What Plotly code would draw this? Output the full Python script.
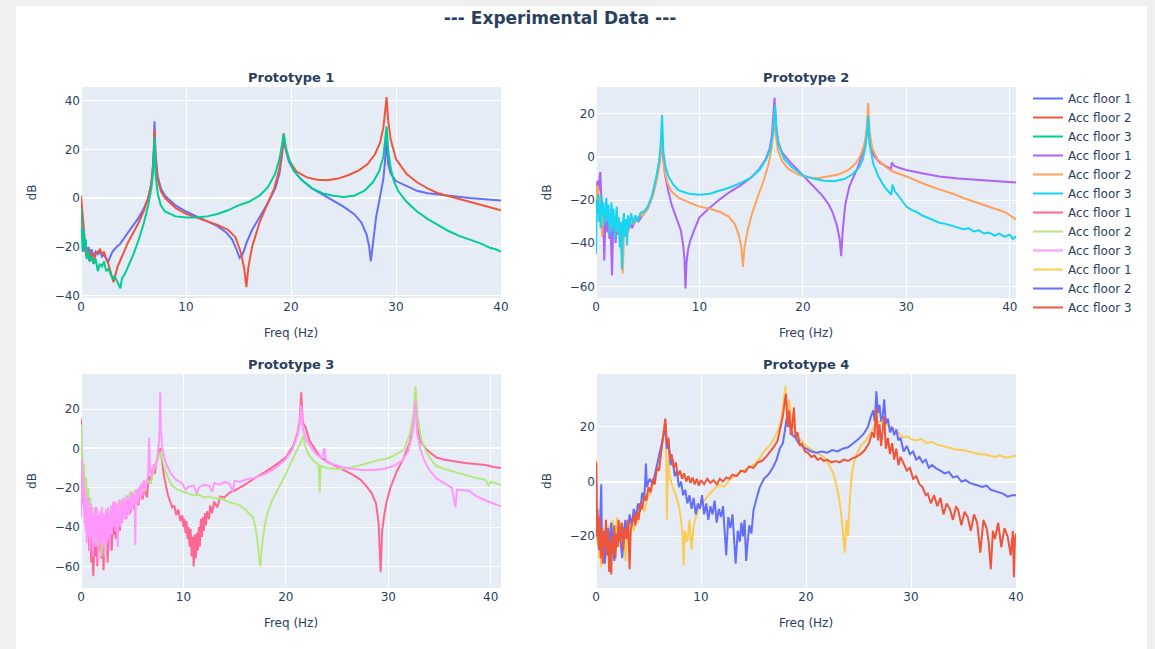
import plotly.graph_objects as go

# ---------------- data (frequency Hz, magnitude dB) ----------------
p1_acc1 = [(0.0,-6),(0.1,-16),(0.2,-12),(0.3,-22),(0.4,-17),(0.55,-24),(0.7,-20),(0.85,-23),(1.0,-21),(1.2,-24),(1.4,-22),(1.6,-23),(1.8,-22),(2.0,-24),(2.2,-23),(2.4,-25),(2.6,-26),(2.8,-24),(3.0,-22),(3.2,-21),(3.4,-20),(3.7,-19),(4.0,-17),(4.5,-14),(5.0,-11),(5.5,-8),(6.0,-4),(6.4,0),(6.7,6),(6.85,13),(6.95,22),(7.0,31.5),(7.1,18),(7.3,9),(7.6,4),(8.0,1),(9.0,-3),(10.0,-5.5),(11.0,-7.5),(12.0,-9.5),(13.0,-11.5),(13.8,-14),(14.4,-17),(14.8,-21),(15.1,-24.5),(15.4,-23),(15.8,-18),(16.3,-13),(17.0,-8),(17.8,-2),(18.5,4),(18.9,10),(19.15,18),(19.3,24.5),(19.5,20),(19.8,15),(20.3,11),(21.0,7.5),(22.0,4),(23.0,1.5),(24.0,-1),(25.0,-3.5),(26.0,-6.5),(26.7,-10),(27.2,-15),(27.45,-20),(27.6,-26),(27.8,-18),(28.1,-8),(28.5,1),(28.8,8),(28.95,15),(29.1,25),(29.25,14),(29.5,10),(30.0,7),(31.0,5),(32.0,3),(33.0,2),(35.0,1),(37.0,0),(40.0,-1)]
p1_acc2 = [(0.0,1),(0.1,-4),(0.2,-12),(0.35,-20),(0.5,-24),(0.65,-21),(0.8,-26),(1.0,-22),(1.2,-27),(1.4,-23),(1.6,-22),(1.8,-21),(2.0,-23),(2.2,-22),(2.4,-25),(2.6,-27),(2.8,-30),(3.0,-33),(3.1,-34.5),(3.3,-31),(3.5,-28),(3.8,-25),(4.1,-22),(4.5,-18),(5.0,-14),(5.5,-10),(6.0,-5),(6.4,0),(6.7,6),(6.9,15),(7.0,28),(7.1,16),(7.3,8),(7.6,3),(8.0,0),(9.0,-4),(10.0,-6.5),(11.0,-8),(12.0,-9.5),(13.0,-11),(14.0,-13),(14.7,-16),(15.2,-22),(15.55,-29),(15.75,-36.5),(15.95,-28),(16.3,-20),(17.0,-10),(17.7,-3),(18.4,4),(18.9,12),(19.15,19),(19.3,26.5),(19.5,20),(19.9,15),(20.5,11),(21.5,8.5),(22.5,7.5),(23.5,7.3),(24.5,8),(25.5,9.5),(26.5,11.5),(27.3,14),(28.0,18),(28.5,23),(28.8,29),(29.0,37),(29.1,41.5),(29.25,32),(29.5,24),(30.0,16),(31.0,10),(32.0,6.5),(33.0,4),(34.0,2),(35.0,0.8),(36.0,-0.5),(38.0,-2.8),(40.0,-5)]
p1_acc3 = [(0.0,-4),(0.08,-14),(0.15,-22),(0.25,-13),(0.35,-20),(0.45,-17),(0.55,-25),(0.7,-22),(0.85,-26),(1.0,-24),(1.2,-27),(1.4,-25),(1.6,-30),(1.8,-27),(2.0,-28),(2.2,-26),(2.4,-30),(2.6,-29),(2.8,-31),(3.0,-33),(3.2,-32),(3.5,-35),(3.75,-37),(3.9,-33),(4.2,-31),(4.6,-27),(5.0,-23),(5.5,-17),(6.0,-10),(6.4,-3),(6.7,4),(6.85,10),(6.95,18),(7.02,25),(7.1,10),(7.3,2),(7.6,-3),(8.0,-5.5),(9.0,-7.5),(10.0,-8),(11.0,-8),(12.0,-7.5),(13.0,-6.5),(14.0,-5),(15.0,-3),(16.0,-1.5),(17.0,1),(17.8,4.5),(18.5,10),(18.9,16),(19.15,22),(19.3,26.5),(19.5,21),(19.8,16),(20.3,11),(21.0,7.5),(22.0,4),(23.0,2),(24.0,1),(25.0,0.5),(26.0,1),(27.0,3),(27.8,6.5),(28.4,11),(28.8,17),(29.0,24),(29.1,29.5),(29.25,20),(29.5,12),(29.8,7),(30.2,3),(31.0,-1.5),(32.0,-5.5),(33.0,-8.5),(34.0,-11),(35.0,-13.5),(36.0,-15.5),(37.0,-17),(38.0,-18.5),(39.0,-20.5),(39.5,-21),(40.0,-22)]

p2_acc1 = [(0.0,-22),(0.05,-14),(0.15,-11),(0.25,-16),(0.35,-9),(0.42,-7),(0.5,-18),(0.6,-22),(0.7,-28),(0.8,-48),(0.9,-30),(1.0,-26),(1.1,-35),(1.2,-28),(1.3,-38),(1.4,-30),(1.5,-45),(1.55,-55),(1.65,-33),(1.8,-30),(1.9,-40),(2.0,-28),(2.15,-36),(2.3,-30),(2.45,-40),(2.6,-32),(2.75,-36),(2.9,-29),(3.1,-34),(3.3,-30),(3.5,-33),(3.8,-29),(4.1,-30),(4.5,-27),(5.0,-24),(5.4,-19),(5.8,-11),(6.1,-3),(6.3,3),(6.4,6),(6.5,-1),(6.7,-9),(7.0,-16),(7.3,-22),(7.6,-26),(7.9,-30),(8.2,-34),(8.4,-40),(8.55,-47),(8.65,-61),(8.75,-49),(8.9,-43),(9.1,-39),(9.4,-35),(9.7,-31),(10.0,-28),(11.0,-23.5),(12.0,-19.5),(13.0,-16),(14.0,-13),(15.0,-9.5),(15.8,-5.5),(16.4,-1),(16.8,4),(17.0,10),(17.15,18),(17.26,27.5),(17.4,15),(17.6,7),(18.0,2),(18.7,-2),(19.5,-6),(20.3,-10),(21.2,-14.5),(21.9,-18),(22.5,-22),(22.9,-26),(23.3,-32),(23.55,-38),(23.7,-46),(23.85,-34),(24.1,-22),(24.5,-13.5),(25.2,-6),(25.8,2),(26.1,9),(26.3,18),(26.45,8),(26.8,1),(27.4,-2.5),(28.1,-4.3),(28.5,-5.6),(28.6,-2.5),(28.8,-4),(29.3,-5),(30.0,-6),(31.5,-7.5),(33.2,-9),(35.0,-10),(36.5,-10.5),(38.5,-11.2),(40.6,-11.8)]
p2_acc2 = [(0.0,-26),(0.05,-18),(0.1,-13),(0.2,-15),(0.3,-22),(0.4,-18),(0.5,-30),(0.6,-37),(0.7,-24),(0.85,-28),(1.0,-22),(1.15,-30),(1.3,-26),(1.5,-33),(1.7,-28),(1.9,-35),(2.1,-30),(2.3,-38),(2.5,-45),(2.58,-54),(2.7,-36),(2.9,-31),(3.1,-35),(3.4,-30),(3.7,-31),(4.0,-28),(4.5,-27),(5.0,-24),(5.5,-18),(5.9,-10),(6.2,-2),(6.35,8),(6.45,5),(6.6,-6),(6.9,-12),(7.3,-16),(8.0,-19),(9.0,-21),(10.0,-23),(11.0,-24),(12.0,-25.5),(12.8,-27.5),(13.4,-31),(13.8,-36),(14.05,-42),(14.2,-51),(14.35,-42),(14.7,-33),(15.1,-26),(15.6,-19),(16.2,-11),(16.7,-3),(17.0,5),(17.15,13),(17.25,21),(17.35,11),(17.6,3),(18.0,-2),(18.6,-5.5),(19.5,-8),(20.5,-9.5),(21.5,-9.8),(22.5,-9),(23.5,-8),(24.4,-6),(25.1,-3),(25.6,1),(26.0,7),(26.2,14),(26.3,25),(26.45,12),(26.7,4),(27.2,-1),(28.0,-4.5),(28.6,-6.5),(29.5,-8),(30.0,-9),(31.0,-11),(32.0,-13),(33.2,-15),(34.5,-17),(35.5,-19),(36.5,-20.6),(37.3,-22),(38.0,-23),(38.8,-24.2),(39.5,-25.5),(40.1,-27.3),(40.6,-29)]
p2_acc3 = [(0.0,-45),(0.04,-30),(0.08,-20),(0.15,-26),(0.22,-17),(0.3,-30),(0.38,-22),(0.45,-33),(0.52,-18),(0.6,-27),(0.7,-21),(0.8,-32),(0.9,-24),(1.0,-19),(1.1,-30),(1.2,-22),(1.3,-36),(1.4,-25),(1.5,-21),(1.6,-33),(1.7,-24),(1.8,-38),(1.9,-27),(2.0,-23),(2.1,-35),(2.2,-28),(2.3,-42),(2.4,-30),(2.5,-52),(2.6,-31),(2.7,-26),(2.8,-37),(2.9,-29),(3.0,-41),(3.1,-27),(3.25,-33),(3.4,-26),(3.6,-31),(3.8,-27),(4.0,-30),(4.3,-26),(4.7,-25),(5.0,-23),(5.4,-18),(5.8,-10),(6.1,-2),(6.25,6),(6.39,19.5),(6.5,3),(6.7,-4),(7.0,-9),(7.5,-13),(8.0,-15.5),(9.0,-17),(10.0,-17.5),(11.0,-17),(12.0,-15.5),(13.0,-14),(14.0,-12),(15.0,-9.5),(15.8,-6),(16.4,-1.5),(16.8,3),(17.05,9),(17.2,16),(17.3,24),(17.45,12),(17.7,5),(18.2,-1),(19.0,-5),(20.0,-8.5),(21.0,-10),(22.0,-11),(23.0,-11.2),(24.0,-10.2),(24.8,-8),(25.4,-5),(25.8,-1),(26.05,5),(26.2,11),(26.3,19),(26.45,6),(26.8,-3),(27.3,-9),(27.9,-14),(28.4,-16.7),(28.55,-17.5),(28.65,-12.8),(28.9,-16),(29.4,-19),(30.0,-23),(30.5,-24.5),(31.0,-25.5),(31.5,-27),(32.0,-28),(32.5,-29),(33.2,-30.5),(33.8,-31),(34.5,-32),(35.0,-32.5),(35.5,-33.5),(36.0,-33),(36.5,-34.5),(37.0,-34),(37.5,-35.5),(38.0,-35),(38.5,-36.5),(39.0,-35.5),(39.5,-37),(40.0,-36),(40.3,-38),(40.6,-36.8)]

p3_acc1 = [(0.0,15),(0.05,-5),(0.1,-20),(0.15,-12),(0.2,-28),(0.3,-22),(0.4,-38),(0.5,-30),(0.6,-45),(0.7,-35),(0.8,-52),(0.9,-40),(1.0,-58),(1.1,-45),(1.2,-65),(1.3,-48),(1.4,-55),(1.5,-42),(1.6,-60),(1.7,-44),(1.8,-52),(1.9,-38),(2.0,-56),(2.1,-42),(2.2,-62),(2.3,-45),(2.4,-50),(2.5,-38),(2.6,-58),(2.7,-40),(2.8,-48),(2.9,-35),(3.0,-52),(3.1,-38),(3.2,-44),(3.3,-32),(3.4,-46),(3.5,-36),(3.6,-40),(3.7,-30),(3.8,-42),(3.9,-33),(4.0,-37),(4.2,-30),(4.4,-36),(4.6,-28),(4.8,-33),(5.0,-26),(5.2,-31),(5.4,-24),(5.6,-29),(5.8,-22),(6.0,-26),(6.2,-20),(6.45,-25),(6.6,-14),(6.8,-18),(7.0,-10),(7.2,-13),(7.4,-6),(7.6,-3),(7.75,0),(7.9,-6),(8.1,-14),(8.3,-19),(8.5,-24),(8.7,-27),(8.9,-30),(9.1,-29),(9.3,-34),(9.5,-31),(9.7,-37),(9.9,-34),(10.0,-40),(10.1,-36),(10.2,-43),(10.3,-37),(10.4,-46),(10.5,-40),(10.6,-50),(10.7,-41),(10.8,-55),(10.9,-45),(11.0,-60),(11.1,-44),(11.2,-56),(11.3,-43),(11.4,-52),(11.5,-40),(11.6,-50),(11.7,-36),(11.8,-45),(11.9,-35),(12.0,-42),(12.1,-33),(12.2,-39),(12.3,-32),(12.5,-36),(12.6,-29),(12.8,-33),(13.0,-27),(13.3,-30),(13.6,-24.5),(14.0,-25),(14.5,-22.5),(15.0,-21.5),(16.0,-18.5),(17.0,-15),(18.0,-12),(19.0,-8.5),(20.0,-4.5),(20.7,1),(21.1,7),(21.35,14),(21.5,28.5),(21.65,13),(21.9,11),(22.3,4),(22.8,0),(23.3,-4),(24.1,-7),(24.9,-9.3),(25.8,-11.5),(26.6,-13.6),(27.3,-16),(27.9,-19.5),(28.4,-23),(28.8,-28),(29.05,-38),(29.25,-63),(29.4,-42),(29.6,-34),(29.8,-28),(30.2,-20),(30.8,-12),(31.5,-5),(32.1,3),(32.45,12),(32.65,25),(32.85,10),(33.2,3),(33.8,-1),(34.7,-4.7),(35.5,-5.8),(36.5,-6.8),(37.5,-7.5),(38.5,-8),(39.5,-8.5),(40.3,-9.5),(41.0,-10)]
p3_acc2 = [(0.0,12),(0.05,0),(0.1,-10),(0.15,-3),(0.2,-18),(0.3,-8),(0.4,-25),(0.5,-15),(0.6,-32),(0.7,-20),(0.8,-38),(0.9,-25),(1.0,-42),(1.1,-30),(1.2,-48),(1.3,-34),(1.4,-44),(1.5,-30),(1.6,-50),(1.7,-35),(1.8,-46),(1.9,-32),(2.0,-55),(2.1,-36),(2.2,-48),(2.3,-34),(2.4,-52),(2.5,-35),(2.6,-45),(2.7,-32),(2.8,-42),(2.9,-30),(3.0,-40),(3.2,-28),(3.4,-38),(3.6,-27),(3.8,-35),(4.0,-26),(4.2,-33),(4.4,-24),(4.6,-30),(4.8,-22),(5.0,-28),(5.3,-21),(5.6,-25),(5.9,-19),(6.2,-22),(6.5,-16),(6.8,-18),(7.1,-11),(7.4,-7),(7.65,-4),(7.8,-1.5),(7.95,-6),(8.2,-11),(8.5,-15),(8.9,-19),(9.4,-21),(10.0,-22),(10.5,-23),(11.0,-24),(11.5,-23.5),(12.0,-25),(12.5,-24.5),(13.0,-25.5),(13.6,-25.4),(14.0,-26.5),(14.5,-27.5),(15.0,-28),(15.5,-29),(16.0,-31),(16.4,-33),(16.8,-35),(17.1,-42),(17.3,-52),(17.5,-60),(17.7,-48),(17.9,-40),(18.2,-33),(18.7,-26),(19.3,-20),(20.0,-13),(20.6,-6),(21.1,-1),(21.45,3),(21.7,6.5),(21.9,1),(22.2,-3),(22.7,-6.5),(23.2,-8.5),(23.3,-22.5),(23.4,-9),(24.0,-10),(25.0,-10.5),(26.0,-10),(27.0,-9),(28.0,-7.6),(29.0,-6),(30.0,-5),(30.8,-3),(31.5,-1),(32.1,7),(32.45,18),(32.65,31.5),(32.85,17),(33.2,5),(33.7,-2),(34.2,-6),(34.7,-9),(35.5,-10.5),(36.5,-12),(37.5,-13.5),(38.5,-15),(39.5,-16),(39.8,-19),(40.0,-17),(41.0,-18.5)]
p3_acc3 = [(0.0,-35),(0.03,-5),(0.06,-15),(0.1,-8),(0.15,-25),(0.2,-12),(0.25,-30),(0.3,-18),(0.35,-38),(0.4,-22),(0.45,-42),(0.5,-26),(0.55,-48),(0.6,-30),(0.65,-35),(0.7,-25),(0.75,-45),(0.8,-30),(0.85,-52),(0.9,-32),(0.95,-40),(1.0,-28),(1.05,-46),(1.1,-33),(1.15,-55),(1.2,-35),(1.3,-44),(1.35,-30),(1.4,-50),(1.45,-36),(1.5,-42),(1.55,-30),(1.6,-47),(1.65,-34),(1.7,-58),(1.75,-36),(1.8,-44),(1.85,-32),(1.9,-48),(1.95,-35),(2.0,-42),(2.05,-30),(2.1,-50),(2.15,-36),(2.2,-45),(2.25,-33),(2.3,-55),(2.35,-37),(2.4,-44),(2.45,-31),(2.5,-48),(2.55,-34),(2.6,-40),(2.65,-30),(2.7,-46),(2.75,-33),(2.8,-52),(2.85,-35),(2.9,-41),(2.95,-29),(3.0,-44),(3.05,-31),(3.1,-38),(3.15,-27),(3.2,-40),(3.25,-30),(3.3,-27),(3.35,-42),(3.4,-38),(3.45,-28),(3.5,-30),(3.55,-45),(3.6,-50),(3.65,-33),(3.7,-37),(3.75,-26),(3.8,-28),(3.85,-40),(3.9,-35),(3.95,-27),(4.0,-29),(4.05,-38),(4.1,-30),(4.15,-25),(4.2,-34),(4.25,-28),(4.3,-36),(4.35,-26),(4.4,-27),(4.45,-35),(4.5,-29),(4.55,-24),(4.6,-32),(4.65,-27),(4.7,-34),(4.75,-25),(4.8,-25),(4.85,-31),(4.9,-26),(4.95,-22),(5.0,-30),(5.05,-25),(5.1,-28),(5.15,-23),(5.2,-24),(5.25,-30),(5.3,-49),(5.35,-27),(5.4,-25),(5.45,-21),(5.5,-27),(5.55,-23),(5.6,-28),(5.65,-20),(5.7,-24),(5.75,-19),(5.8,-21),(5.85,-25),(5.9,-18),(5.95,-22),(6.0,-24),(6.05,-17),(6.1,-20),(6.15,-16),(6.2,-18),(6.3,-21),(6.4,-17),(6.55,-14),(6.65,5.5),(6.75,-12),(6.9,-14),(7.1,-8),(7.3,-10),(7.45,-3),(7.6,2),(7.68,12),(7.73,28.5),(7.8,10),(7.9,2),(8.1,-4),(8.4,-9),(8.8,-13),(9.3,-16),(9.9,-18),(10.2,-21),(10.5,-19.5),(11.0,-19),(11.3,-23),(11.5,-20),(12.0,-18.5),(12.5,-19),(12.8,-22),(13.0,-17.5),(13.5,-18.5),(14.0,-17),(14.5,-18),(14.8,-22),(15.0,-16.5),(15.5,-17),(16.0,-16),(17.0,-15),(18.0,-13),(19.0,-10),(20.0,-5.5),(20.6,-1),(21.1,6),(21.35,12),(21.5,22),(21.65,10),(22.0,4),(22.5,0),(23.0,-3),(23.5,-5),(23.75,0),(23.9,-6),(24.5,-8),(25.5,-9.5),(26.5,-10.5),(27.5,-11),(28.5,-11),(29.5,-10.5),(30.5,-9),(31.3,-6.5),(31.9,-2),(32.3,6),(32.5,14),(32.65,24),(32.8,8),(33.1,0),(33.5,-6),(34.0,-11),(34.7,-15.3),(35.5,-18),(36.2,-20),(36.55,-30),(36.7,-21),(37.9,-21.5),(38.5,-24),(39.5,-26.5),(40.2,-28),(41.0,-29.5)]

p4_acc1 = [(0.0,8),(0.05,-10),(0.1,-22),(0.2,-15),(0.3,-28),(0.4,-18),(0.5,-31),(0.6,-20),(0.7,-26),(0.8,-17),(0.9,-29),(1.0,-19),(1.1,-24),(1.2,-16),(1.3,-27),(1.4,-18),(1.5,-22),(1.6,-14),(1.7,-26),(1.8,-17),(1.9,-21),(2.0,-13),(2.2,-24),(2.4,-15),(2.6,-20),(2.8,-29),(3.0,-17),(3.2,-22),(3.4,-14),(3.6,-18),(3.8,-12),(4.0,-15),(4.3,-9),(4.6,-11),(4.9,-6),(5.2,-4),(5.5,0),(5.8,4),(6.1,9),(6.3,14),(6.5,19),(6.6,22),(6.7,10),(6.75,-14),(6.85,8),(7.0,2),(7.3,-2),(7.6,-5),(7.9,-9),(8.1,-14),(8.25,-20),(8.35,-30.5),(8.45,-18),(8.7,-22),(8.9,-14),(9.1,-25),(9.3,-16),(9.6,-12),(9.9,-9),(10.3,-7),(10.7,-5),(11.2,-3),(11.7,-1),(12.2,-2),(12.7,0.5),(13.2,2),(14.0,4),(15.0,6),(15.5,8),(16.0,11),(16.5,13),(17.0,16),(17.5,20),(17.8,27),(18.05,35),(18.2,24),(18.4,30),(18.6,22),(18.9,19),(19.3,16),(19.8,14),(20.1,12.7),(20.8,11),(21.3,10),(21.7,9),(22.2,6),(22.6,3),(23.0,-3),(23.3,-10),(23.5,-18),(23.7,-26),(23.85,-14),(24.0,-20),(24.2,-5),(24.4,4),(24.7,9),(25.2,13),(25.7,15),(26.2,18),(26.6,21),(27.0,22),(27.5,21),(28.0,20),(28.5,19),(29.0,17),(29.3,16),(29.7,16.5),(30.0,15.5),(30.5,15),(31.0,15.5),(31.5,14),(32.0,14.5),(32.5,13.5),(33.0,13),(33.5,12.5),(34.0,12),(34.5,11.5),(35.0,11.5),(35.6,11),(36.0,10.5),(36.5,10),(37.0,10),(37.5,9.5),(38.0,9),(38.5,9.5),(39.0,8.8),(39.5,9),(40.0,9.5)]
p4_acc2 = [(0.0,6),(0.05,-12),(0.1,-20),(0.2,-15),(0.3,-25),(0.4,-14),(0.5,-1),(0.55,-18),(0.65,-28),(0.75,-18),(0.85,-30),(0.95,-21),(1.05,-26),(1.15,-17),(1.3,-24),(1.45,-15),(1.6,-22),(1.75,-29),(1.9,-19),(2.05,-23),(2.2,-16),(2.35,-21),(2.5,-28),(2.65,-18),(2.8,-14),(3.0,-20),(3.2,-12),(3.4,-16),(3.6,-10),(3.8,-13),(4.0,-8),(4.2,-11),(4.4,-4),(4.6,-7),(4.76,6.6),(4.85,-2),(5.1,1),(5.4,-1),(5.7,4),(6.0,9),(6.3,14),(6.5,18),(6.62,21),(6.75,12),(6.9,15),(7.1,6),(7.3,8),(7.5,2),(7.7,4),(7.9,-2),(8.1,0),(8.3,-5),(8.5,-3),(8.7,-8),(8.9,-5),(9.1,-10),(9.3,-6),(9.5,-12),(9.7,-8),(9.9,-10),(10.1,-5),(10.3,-12),(10.5,-8),(10.7,-14),(10.9,-9),(11.1,-12),(11.3,-7),(11.5,-15),(11.7,-10),(11.9,-13),(12.1,-9),(12.4,-27),(12.6,-13),(12.8,-17),(13.0,-12),(13.3,-30),(13.5,-18),(13.7,-22),(13.85,-15),(14.0,-20),(14.15,-14),(14.3,-29),(14.45,-22),(14.6,-16),(14.8,-19),(15.0,-10.5),(15.3,-6),(15.6,-2),(16.0,1),(16.5,3),(16.9,5.5),(17.2,8),(17.5,12),(17.8,14),(18.0,19),(18.15,23),(18.3,20),(18.5,22),(18.7,17),(19.0,16),(19.3,14),(19.6,13),(20.0,12),(20.5,11),(21.0,10.5),(21.5,11),(22.0,10.5),(22.5,11.5),(23.0,11),(23.5,12),(24.0,12.5),(24.5,14),(25.0,15.5),(25.5,17.5),(25.9,20),(26.2,24),(26.4,26),(26.55,22),(26.7,33),(26.85,25),(27.0,28),(27.15,22),(27.3,24),(27.45,30),(27.6,21),(27.8,23),(28.0,18),(28.2,20),(28.4,17),(28.6,19),(28.8,15),(29.0,16),(29.3,11),(29.6,13),(29.9,10),(30.2,11),(30.5,8),(30.8,9),(31.1,7),(31.4,8),(31.7,5),(32.0,6),(32.4,4.8),(32.8,4),(33.2,3),(33.6,3.5),(34.0,1.5),(34.4,2),(34.8,0),(35.2,0.5),(35.6,-0.5),(36.0,-1),(36.4,-1.5),(36.8,-2),(37.2,-1.5),(37.6,-3),(38.0,-3.5),(38.4,-4),(38.8,-4.5),(39.2,-5.5),(39.6,-5),(40.0,-5)]
p4_acc3 = [(0.0,-15),(0.03,7),(0.07,-20),(0.15,-10),(0.25,-24),(0.35,-13),(0.45,-28),(0.55,-17),(0.65,-30),(0.75,-19),(0.85,-24),(0.95,-14),(1.05,-27),(1.15,-18),(1.25,-33),(1.35,-22),(1.45,-34),(1.55,-20),(1.65,-26),(1.75,-16),(1.85,-28),(1.95,-19),(2.05,-24),(2.15,-14),(2.3,-22),(2.45,-15),(2.6,-25),(2.75,-17),(2.9,-21),(3.05,-14),(3.2,-32),(3.3,-18),(3.45,-15),(3.6,-12),(3.75,-16),(3.9,-11),(4.05,-14),(4.2,-8),(4.4,-10),(4.6,-5),(4.8,-7),(5.0,-2),(5.2,-4),(5.4,1),(5.6,-1),(5.8,5),(6.0,4),(6.2,10),(6.4,15),(6.6,23),(6.75,14),(6.9,16),(7.05,8),(7.2,10),(7.4,5),(7.6,7),(7.8,2),(8.0,4),(8.2,1),(8.4,3),(8.6,0),(8.8,2),(9.0,-0.5),(9.2,1.5),(9.4,-1),(9.6,1),(9.8,-1.5),(10.0,0.5),(10.3,-1),(10.6,1),(10.9,-0.5),(11.2,0.5),(11.5,-1),(11.8,1),(12.1,0),(12.4,1.5),(12.7,1),(13.0,2.5),(13.4,2),(13.8,4),(14.2,3.5),(14.6,5.5),(15.0,5),(15.4,7),(15.8,7.5),(16.2,9),(16.6,11),(17.0,13),(17.3,15),(17.6,20),(17.8,24),(18.0,30),(18.1,32),(18.25,20),(18.4,26),(18.55,17),(18.7,21),(18.85,27),(19.0,16),(19.2,18),(19.4,13),(19.6,14),(19.9,11),(20.2,10.5),(20.5,9),(20.8,9.5),(21.1,8),(21.4,8.5),(21.7,7.5),(22.0,8),(22.4,7),(22.8,7.5),(23.2,7),(23.6,8),(24.0,7.5),(24.4,8.5),(24.8,9),(25.2,10),(25.6,11.5),(26.0,14),(26.3,18),(26.5,16),(26.7,27),(26.85,15),(27.0,21),(27.15,13),(27.3,18),(27.45,24),(27.6,12),(27.8,16),(28.0,10),(28.2,14),(28.4,8),(28.6,12),(28.8,6),(29.0,9),(29.3,6.6),(29.6,4),(29.9,5),(30.2,1),(30.5,2),(30.8,-1),(31.1,-2),(31.4,-5),(31.6,-4.4),(31.9,-8),(32.2,-5),(32.5,-9),(32.8,-6),(33.1,-12),(33.4,-8),(33.7,-10),(34.0,-14),(34.3,-9),(34.5,-10.5),(34.8,-16),(35.1,-11),(35.4,-13),(35.7,-18),(36.0,-12),(36.3,-15),(36.6,-26),(36.9,-14),(37.2,-17),(37.4,-22),(37.6,-32),(37.8,-18),(38.0,-21),(38.3,-15),(38.6,-24),(38.9,-17),(39.2,-20),(39.5,-27),(39.7,-18),(39.8,-35),(39.9,-21),(40.0,-19)]

series_names = ["Acc floor 1", "Acc floor 2", "Acc floor 3"]
subplot_titles = ["Prototype 1", "Prototype 2", "Prototype 3", "Prototype 4"]
prototypes = [[p1_acc1, p1_acc2, p1_acc3], [p2_acc1, p2_acc2, p2_acc3],
              [p3_acc1, p3_acc2, p3_acc3], [p4_acc1, p4_acc2, p4_acc3]]
x_ranges = [[0, 40], [0, 40.6], [0, 41], [0, 40]]
y_ranges = [[-41, 45.6], [-65.4, 32.5], [-71, 37.8], [-38.9, 39.3]]

colors = ["#636efa", "#EF553B", "#00cc96", "#ab63fa", "#FFA15A", "#19d3f3",
          "#FF6692", "#B6E880", "#FF97FF", "#FECB52", "#636efa", "#EF553B"]

# ---------------- layout geometry ----------------
W, H = 1155, 649
col_px = [(81, 501), (596, 1016)]
row_px = [(87, 298), (374, 588)]

fig = go.Figure()
k = 0
for i, proto in enumerate(prototypes):
    ax = "" if i == 0 else str(i + 1)
    for j, series in enumerate(proto):
        fx = [p[0] for p in series]
        db = [p[1] for p in series]
        fig.add_trace(go.Scatter(x=fx, y=db, mode="lines", name=series_names[j],
                                 line=dict(color=colors[k], width=2),
                                 xaxis="x" + ax, yaxis="y" + ax))
        k += 1

layout = {}
annotations = []
for i in range(4):
    r, c = divmod(i, 2)
    xd = [col_px[c][0] / W, col_px[c][1] / W]
    yd = [1 - row_px[r][1] / H, 1 - row_px[r][0] / H]
    ax = "" if i == 0 else str(i + 1)
    layout["xaxis" + ax] = dict(domain=xd, anchor="y" + ax, range=x_ranges[i],
                                dtick=10, tick0=0, automargin=False,
                                title=dict(text="Freq (Hz)", font=dict(size=12)),
                                tickfont=dict(size=12))
    layout["yaxis" + ax] = dict(domain=yd, anchor="x" + ax, range=y_ranges[i],
                                dtick=20, tick0=0, automargin=False,
                                title=dict(text="dB", font=dict(size=12)),
                                tickfont=dict(size=12))
    annotations.append(dict(text="<b>" + subplot_titles[i] + "</b>", x=(xd[0] + xd[1]) / 2,
                            y=yd[1], xref="paper", yref="paper", xanchor="center",
                            yanchor="bottom", showarrow=False, font=dict(size=13)))

fig.update_layout(**layout)
fig.update_layout(
    template="plotly",
    width=W, height=H,
    margin=dict(l=0, r=0, t=0, b=0),
    paper_bgcolor="white",
    font=dict(family="DejaVu Sans, Verdana, sans-serif", size=12, color="#2a3f5f"),
    title=dict(text="<b>--- Experimental Data ---</b>", x=560 / W, xref="container",
               xanchor="center", y=1 - 18 / H, yref="container", yanchor="middle",
               font=dict(size=17, color="#2a3f5f")),
    annotations=annotations,
    legend=dict(x=1028 / W, y=1 - 84 / H, xanchor="left", yanchor="top",
                font=dict(size=12), tracegroupgap=0),
    shapes=[
        dict(type="rect", xref="paper", yref="paper", x0=0, x1=16 / W, y0=0, y1=1,
             fillcolor="#efefef", line=dict(width=0), layer="below"),
        dict(type="rect", xref="paper", yref="paper", x0=0, x1=1, y0=1 - 6 / H, y1=1,
             fillcolor="#efefef", line=dict(width=0), layer="below"),
        dict(type="rect", xref="paper", yref="paper", x0=1147 / W, x1=1, y0=0, y1=1,
             fillcolor="#efefef", line=dict(width=0), layer="below"),
    ],
)

fig.write_html("out.html", config={"displayModeBar": False},
               post_script="document.body.style.margin='0';document.body.style.overflow='hidden';")
